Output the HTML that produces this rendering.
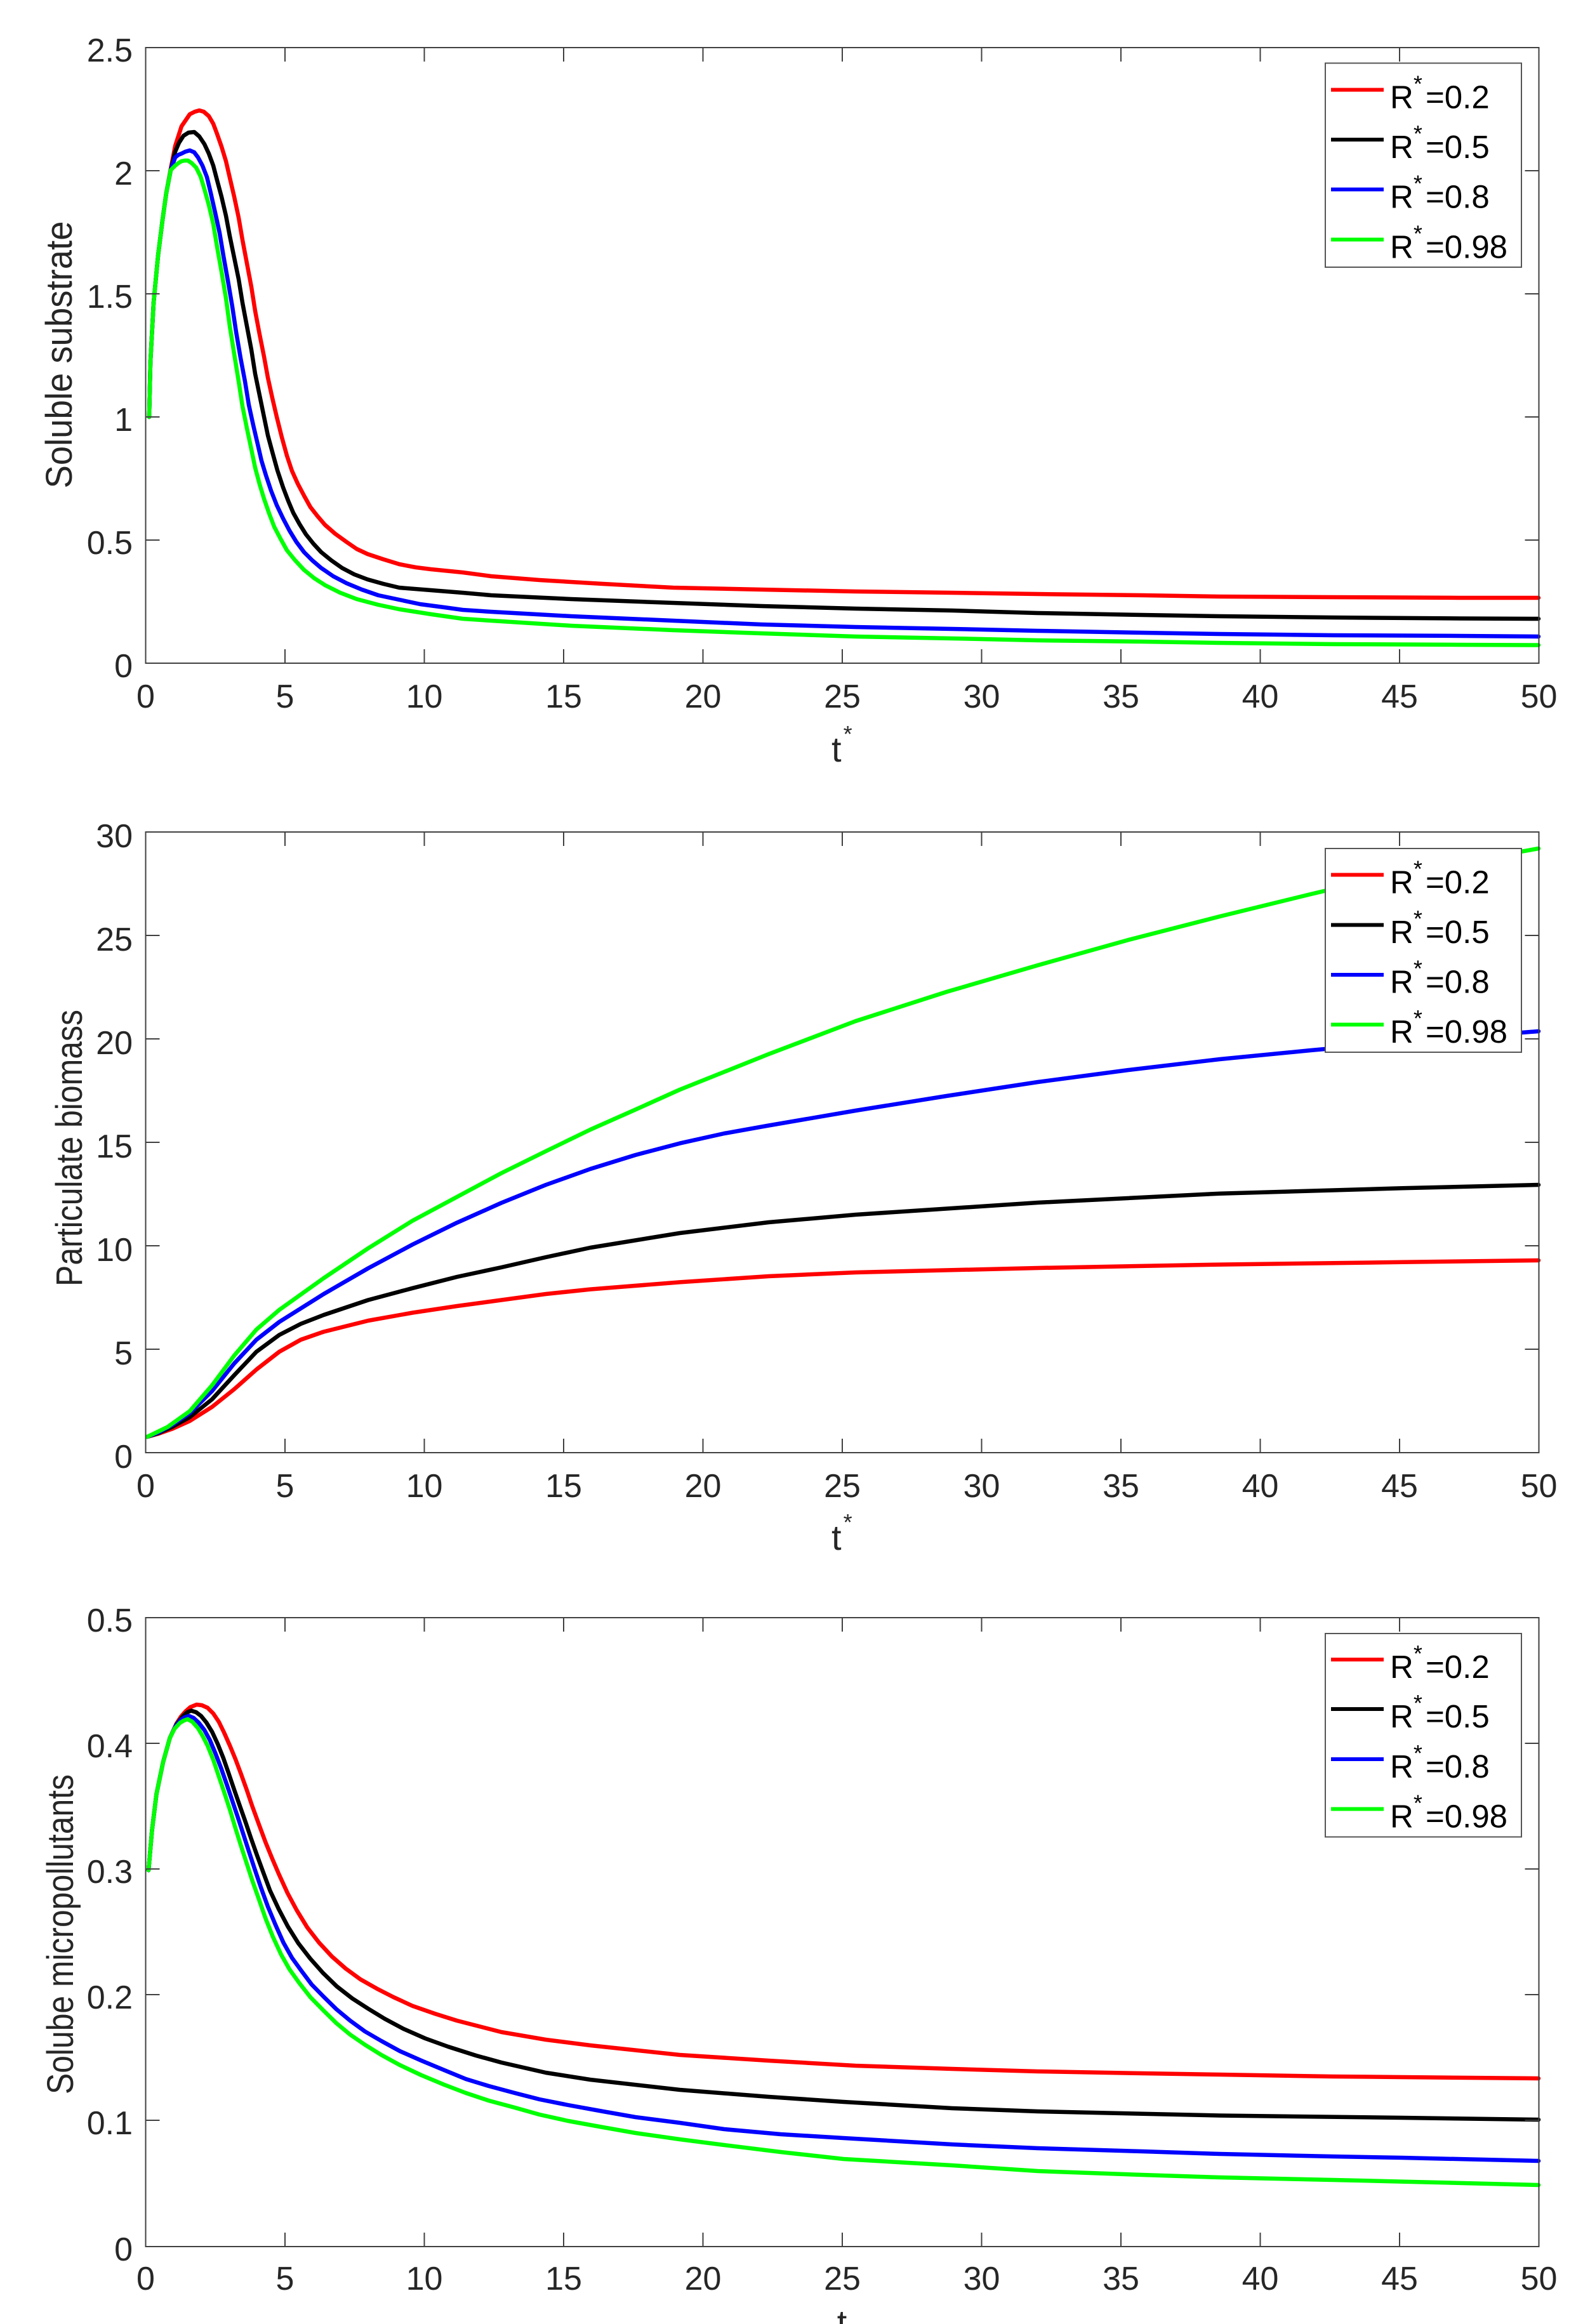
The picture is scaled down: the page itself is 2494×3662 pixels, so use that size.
<!DOCTYPE html>
<html><head><meta charset="utf-8"><style>
html,body{margin:0;padding:0;background:#fff;}
svg{display:block;}
text{font-family:"Liberation Sans",Arial,sans-serif;}
</style></head><body>
<svg width="2494" height="3662" viewBox="0 0 2494 3662" xmlns="http://www.w3.org/2000/svg">
<rect width="2494" height="3662" fill="#fff"/>

<!-- ================= PANEL 1 ================= -->
<g fill="none" stroke-width="6.5" stroke-linejoin="round" stroke-linecap="round">
<polyline stroke="#ff0000" points="235,657 237,570 242,477 249,403 256,347 262,304 269,266 276,230 286,199 299,180 307,176 314,174 321,176 329,183 336,195 342,211 349,231 356,254 362,280 369,310 376,343 382,378 389,415 396,452 402,490 409,527 416,562 422,595 429,627 436,657 444,689 452,718 460,742 469,762 479,781 489,799 500,813 512,827 528,841 546,854 562,865 579,873 603,881 629,889 655,894 679,897 729,902 774,908 850,914 950,920 1061,926 1200,929 1348,932 1500,934 1635,936 1800,938 1922,940 2100,941 2300,942 2424,942"/>
<polyline stroke="#000000" points="235,657 237,570 242,477 249,403 256,347 262,304 269,268 276,239 282,225 289,214 297,209 306,208 314,215 322,227 329,242 336,261 342,284 349,310 356,340 362,372 369,406 376,440 382,477 389,514 396,551 402,589 409,623 416,657 422,686 429,712 437,741 446,768 454,789 462,808 472,826 482,842 494,857 506,870 522,883 539,895 558,905 579,913 604,920 629,926 679,930 729,934 774,938 900,944 1061,950 1200,955 1348,959 1500,962 1635,966 1800,969 1922,971 2100,973 2300,974.5 2424,975"/>
<polyline stroke="#0000ff" points="235,657 237,570 242,477 249,403 256,347 262,304 269,268 276,248 281,244 286,242 292,239 299,237 306,240 312,248 319,261 326,279 332,304 339,335 346,367 352,403 359,442 366,483 372,523 379,564 386,601 392,638 399,670 406,700 412,726 419,749 427,773 436,796 446,817 456,836 467,854 479,870 492,883 506,895 525,908 546,919 570,929 596,938 629,945 662,952 700,957 729,961 774,964 900,971 1061,978 1200,984 1348,988 1500,991 1635,994 1800,997 1922,999 2100,1001 2300,1002 2424,1003"/>
<polyline stroke="#00ff00" points="235,657 237,570 242,477 249,403 256,347 262,304 269,268 276,261 281,257 286,254 291,253 296,253 302,257 309,264 316,278 322,298 329,323 336,353 342,389 349,428 356,470 362,514 369,558 376,601 382,640 389,675 396,708 402,737 409,763 416,786 424,809 432,830 442,849 452,867 465,883 479,898 495,911 512,922 536,934 562,944 596,953 629,960 680,968 729,975 774,978 900,986 1061,993 1200,998 1348,1003 1500,1006 1635,1009 1800,1011 1922,1013 2100,1015 2300,1016 2424,1016.5"/>
</g>
<g fill="none" stroke="#404040" stroke-width="2">
<rect x="229.5" y="75" width="2195" height="970"/>
<path d="M449 1045v-22M668.5 1045v-22M888 1045v-22M1107.5 1045v-22M1327 1045v-22M1546.5 1045v-22M1766 1045v-22M1985.5 1045v-22M2205 1045v-22M449 75v22M668.5 75v22M888 75v22M1107.5 75v22M1327 75v22M1546.5 75v22M1766 75v22M1985.5 75v22M2205 75v22M229.5 269h22M229.5 463h22M229.5 657h22M229.5 851h22M2424.5 269h-22M2424.5 463h-22M2424.5 657h-22M2424.5 851h-22"/>
</g>
<g font-size="52" fill="#262626" text-anchor="end">
<text x="209" y="97">2.5</text>
<text x="209" y="291">2</text>
<text x="209" y="485">1.5</text>
<text x="209" y="679">1</text>
<text x="209" y="873">0.5</text>
<text x="209" y="1067">0</text>
</g>
<g font-size="52" fill="#262626" text-anchor="middle">
<text x="229.5" y="1115">0</text>
<text x="449" y="1115">5</text>
<text x="668.5" y="1115">10</text>
<text x="888" y="1115">15</text>
<text x="1107.5" y="1115">20</text>
<text x="1327" y="1115">25</text>
<text x="1546.5" y="1115">30</text>
<text x="1766" y="1115">35</text>
<text x="1985.5" y="1115">40</text>
<text x="2205" y="1115">45</text>
<text x="2424.5" y="1115">50</text>
</g>
<text x="1310" y="1200" font-size="56" fill="#262626">t<tspan dx="3" dy="-31" font-size="36">*</tspan></text>
<text transform="translate(113,559) rotate(-90)" font-size="58" fill="#262626" text-anchor="middle" textLength="421" lengthAdjust="spacingAndGlyphs">Soluble substrate</text>
<!-- legend 1 -->
<rect x="2088" y="99.5" width="309" height="321.5" fill="#fff" stroke="#555" stroke-width="2"/>
<g stroke-width="6">
<line x1="2097" y1="141.5" x2="2180" y2="141.5" stroke="#ff0000"/>
<line x1="2097" y1="220" x2="2180" y2="220" stroke="#000000"/>
<line x1="2097" y1="298.5" x2="2180" y2="298.5" stroke="#0000ff"/>
<line x1="2097" y1="377.5" x2="2180" y2="377.5" stroke="#00ff00"/>
</g>
<g font-size="51" fill="#000">
<text x="2190" y="170.5">R<tspan dy="-26" font-size="36">*</tspan><tspan x="2246" dy="26">=0.2</tspan></text>
<text x="2190" y="249">R<tspan dy="-26" font-size="36">*</tspan><tspan x="2246" dy="26">=0.5</tspan></text>
<text x="2190" y="327.5">R<tspan dy="-26" font-size="36">*</tspan><tspan x="2246" dy="26">=0.8</tspan></text>
<text x="2190" y="406.5">R<tspan dy="-26" font-size="36">*</tspan><tspan x="2246" dy="26">=0.98</tspan></text>
</g>

<!-- ================= PANEL 2 ================= -->
<g fill="none" stroke-width="6.5" stroke-linejoin="round" stroke-linecap="round">
<polyline stroke="#ff0000" points="232,2264 250,2259 271,2251.6 299,2239 334,2217 369,2189 404,2158 440,2130 474,2111 510,2098.5 580,2081 650,2068.5 720,2058 790,2048.5 860,2039 930,2031.6 1071,2020.4 1211,2011 1348,2005 1635,1998 1922,1992.6 2209,1988.8 2424,1986"/>
<polyline stroke="#000000" points="232,2264 250,2258 271,2248.5 299,2233 334,2205 369,2167 404,2130 440,2103.5 474,2086 510,2072 580,2048.5 650,2029.8 720,2012 790,1997 860,1981 930,1966 1071,1943 1211,1926 1348,1914 1635,1895 1922,1880.7 2209,1872.3 2424,1867"/>
<polyline stroke="#0000ff" points="232,2264 250,2257 271,2245.4 299,2226.6 334,2192 369,2148.5 404,2111 440,2083 510,2039 580,1998.5 650,1961 720,1926.6 790,1895.4 860,1867 930,1842 1001,1820 1071,1801.6 1141,1786 1211,1773.5 1348,1750 1491,1727 1635,1705 1778,1686 1922,1669 2065,1655 2209,1642 2424,1625"/>
<polyline stroke="#00ff00" points="232,2264 264,2248.5 299,2223.5 334,2183 369,2136 404,2095 440,2064 510,2014 580,1967 650,1923.5 720,1886 790,1848.5 860,1814 930,1780 1001,1748.5 1071,1717 1141,1689 1211,1661 1348,1609 1491,1563 1635,1521 1778,1481 1922,1444 2065,1409 2209,1375 2424,1337"/>
</g>
<g fill="none" stroke="#404040" stroke-width="2">
<rect x="229.5" y="1311" width="2195" height="978"/>
<path d="M449 2289v-22M668.5 2289v-22M888 2289v-22M1107.5 2289v-22M1327 2289v-22M1546.5 2289v-22M1766 2289v-22M1985.5 2289v-22M2205 2289v-22M449 1311v22M668.5 1311v22M888 1311v22M1107.5 1311v22M1327 1311v22M1546.5 1311v22M1766 1311v22M1985.5 1311v22M2205 1311v22M229.5 1474h22M229.5 1637h22M229.5 1800h22M229.5 1963h22M229.5 2126h22M2424.5 1474h-22M2424.5 1637h-22M2424.5 1800h-22M2424.5 1963h-22M2424.5 2126h-22"/>
</g>
<g font-size="52" fill="#262626" text-anchor="end">
<text x="209" y="1335">30</text>
<text x="209" y="1498">25</text>
<text x="209" y="1661">20</text>
<text x="209" y="1824">15</text>
<text x="209" y="1987">10</text>
<text x="209" y="2150">5</text>
<text x="209" y="2313">0</text>
</g>
<g font-size="52" fill="#262626" text-anchor="middle">
<text x="229.5" y="2359">0</text>
<text x="449" y="2359">5</text>
<text x="668.5" y="2359">10</text>
<text x="888" y="2359">15</text>
<text x="1107.5" y="2359">20</text>
<text x="1327" y="2359">25</text>
<text x="1546.5" y="2359">30</text>
<text x="1766" y="2359">35</text>
<text x="1985.5" y="2359">40</text>
<text x="2205" y="2359">45</text>
<text x="2424.5" y="2359">50</text>
</g>
<text x="1310" y="2442" font-size="56" fill="#262626">t<tspan dx="3" dy="-31" font-size="36">*</tspan></text>
<text transform="translate(129,1809) rotate(-90)" font-size="58" fill="#262626" text-anchor="middle" textLength="436" lengthAdjust="spacingAndGlyphs">Particulate biomass</text>
<!-- legend 2 -->
<rect x="2088" y="1337" width="309" height="321" fill="#fff" stroke="#555" stroke-width="2"/>
<g stroke-width="6">
<line x1="2097" y1="1378.5" x2="2180" y2="1378.5" stroke="#ff0000"/>
<line x1="2097" y1="1457.5" x2="2180" y2="1457.5" stroke="#000000"/>
<line x1="2097" y1="1536" x2="2180" y2="1536" stroke="#0000ff"/>
<line x1="2097" y1="1614.5" x2="2180" y2="1614.5" stroke="#00ff00"/>
</g>
<g font-size="51" fill="#000">
<text x="2190" y="1407.5">R<tspan dy="-26" font-size="36">*</tspan><tspan x="2246" dy="26">=0.2</tspan></text>
<text x="2190" y="1486">R<tspan dy="-26" font-size="36">*</tspan><tspan x="2246" dy="26">=0.5</tspan></text>
<text x="2190" y="1564.5">R<tspan dy="-26" font-size="36">*</tspan><tspan x="2246" dy="26">=0.8</tspan></text>
<text x="2190" y="1643">R<tspan dy="-26" font-size="36">*</tspan><tspan x="2246" dy="26">=0.98</tspan></text>
</g>

<!-- ================= PANEL 3 ================= -->
<g fill="none" stroke-width="6.5" stroke-linejoin="round" stroke-linecap="round">
<polyline stroke="#ff0000" points="234,2947 239.5,2884 246.5,2827 257,2776.5 267.6,2738.6 278,2716 285,2705 292,2697 300,2690 309.7,2686 318,2687 327,2691 336,2700 344.7,2713 353,2730 362.3,2751 371,2772 379.8,2795.5 388.6,2820 397.4,2846 408,2875 418.4,2903 429,2929 439.5,2953.5 453,2983 467.5,3010 484,3037 502.6,3061 523,3083 544.7,3102 568,3119 593.8,3133.6 620,3147 650,3160.8 685,3173 720,3184 790,3202 860,3214 930.5,3223 1071,3238 1211,3247 1348,3255 1500,3260 1635,3264 1800,3267 1922,3269 2100,3272 2209,3273 2424,3275"/>
<polyline stroke="#000000" points="234,2947 239.5,2884 246.5,2827 257,2776.5 267.6,2738.6 278,2717 288.6,2703.8 295,2698 301.3,2695.6 309,2698 316.7,2703.8 325,2714 334.2,2729 343,2748 351.8,2770 360.5,2795 369.3,2821 378,2846 386.8,2871 395.6,2897 404.4,2922 415,2951 425.4,2979 439,3008 453.5,3035.6 470,3062 488.6,3086 509,3109 530.6,3130 555,3149 579.8,3165 606,3181 635.9,3197 670,3212 706,3225 750,3239 790,3250 860,3266 930,3277 1071,3293 1211,3304 1329,3312 1500,3322 1635,3327 1922,3333.5 2209,3337 2424,3340"/>
<polyline stroke="#0000ff" points="234,2947 239.5,2884 246.5,2827 257,2776.5 267.6,2738.6 276,2721 285.1,2710 291,2706 297.7,2703.8 305,2707 313.2,2714.6 322,2726 330.7,2742 339.5,2763 348.3,2786 357,2811 365.8,2837 374.5,2863 383.3,2890 392,2917 400.9,2944 411,2974 421.9,3004 434,3033 446.5,3061 460,3085 474.5,3105 491,3127 509.6,3146 530,3166 551.7,3184 575,3201 600.8,3216 630,3232 664,3247 700,3262 734,3276 770,3287 811,3298 850,3308 895,3317 950,3327 1001,3336 1071,3345 1141,3355 1230,3363 1329,3369 1500,3379 1635,3385 1800,3390 1922,3394 2100,3398 2209,3400 2424,3405"/>
<polyline stroke="#00ff00" points="234,2947 239.5,2884 246.5,2827 257,2776.5 267.6,2738.6 275,2724 283.7,2714.6 290,2711 295.6,2709 303,2713 311.8,2723 319,2735 327.2,2751 336,2773 344.7,2799 353.5,2825 362.3,2852 371,2881 379.8,2909 388.6,2936 397.4,2963 408,2993 418.4,3023 430,3052 443,3080 456,3103 471,3124 489,3147 509.6,3168 530,3188 551.7,3206 575,3222 600.8,3238 630,3254 664,3270 700,3285 734,3298 770,3310 811,3321 850,3332 895,3342 950,3352 1001,3361 1071,3371 1141,3380 1230,3391 1329,3402 1500,3412 1635,3421 1800,3427 1922,3431 2100,3435 2209,3437.6 2424,3443"/>
</g>
<g fill="none" stroke="#404040" stroke-width="2">
<rect x="229.5" y="2549" width="2195" height="991"/>
<path d="M449 3540v-22M668.5 3540v-22M888 3540v-22M1107.5 3540v-22M1327 3540v-22M1546.5 3540v-22M1766 3540v-22M1985.5 3540v-22M2205 3540v-22M449 2549v22M668.5 2549v22M888 2549v22M1107.5 2549v22M1327 2549v22M1546.5 2549v22M1766 2549v22M1985.5 2549v22M2205 2549v22M229.5 2747h22M229.5 2945h22M229.5 3143h22M229.5 3341h22M2424.5 2747h-22M2424.5 2945h-22M2424.5 3143h-22M2424.5 3341h-22"/>
</g>
<g font-size="52" fill="#262626" text-anchor="end">
<text x="209" y="2571">0.5</text>
<text x="209" y="2769">0.4</text>
<text x="209" y="2967">0.3</text>
<text x="209" y="3165">0.2</text>
<text x="209" y="3363">0.1</text>
<text x="209" y="3562">0</text>
</g>
<g font-size="52" fill="#262626" text-anchor="middle">
<text x="229.5" y="3608">0</text>
<text x="449" y="3608">5</text>
<text x="668.5" y="3608">10</text>
<text x="888" y="3608">15</text>
<text x="1107.5" y="3608">20</text>
<text x="1327" y="3608">25</text>
<text x="1546.5" y="3608">30</text>
<text x="1766" y="3608">35</text>
<text x="1985.5" y="3608">40</text>
<text x="2205" y="3608">45</text>
<text x="2424.5" y="3608">50</text>
</g>
<text x="1326.5" y="3679" font-size="56" fill="#262626" text-anchor="middle">t</text>
<text transform="translate(115,3048) rotate(-90)" font-size="58" fill="#262626" text-anchor="middle" textLength="504" lengthAdjust="spacingAndGlyphs">Solube micropollutants</text>
<!-- legend 3 -->
<rect x="2088" y="2574" width="309" height="320.5" fill="#fff" stroke="#555" stroke-width="2"/>
<g stroke-width="6">
<line x1="2097" y1="2615" x2="2180" y2="2615" stroke="#ff0000"/>
<line x1="2097" y1="2693" x2="2180" y2="2693" stroke="#000000"/>
<line x1="2097" y1="2772" x2="2180" y2="2772" stroke="#0000ff"/>
<line x1="2097" y1="2850.5" x2="2180" y2="2850.5" stroke="#00ff00"/>
</g>
<g font-size="51" fill="#000">
<text x="2190" y="2644">R<tspan dy="-26" font-size="36">*</tspan><tspan x="2246" dy="26">=0.2</tspan></text>
<text x="2190" y="2722">R<tspan dy="-26" font-size="36">*</tspan><tspan x="2246" dy="26">=0.5</tspan></text>
<text x="2190" y="2801">R<tspan dy="-26" font-size="36">*</tspan><tspan x="2246" dy="26">=0.8</tspan></text>
<text x="2190" y="2879.5">R<tspan dy="-26" font-size="36">*</tspan><tspan x="2246" dy="26">=0.98</tspan></text>
</g>
</svg>
</body></html>
